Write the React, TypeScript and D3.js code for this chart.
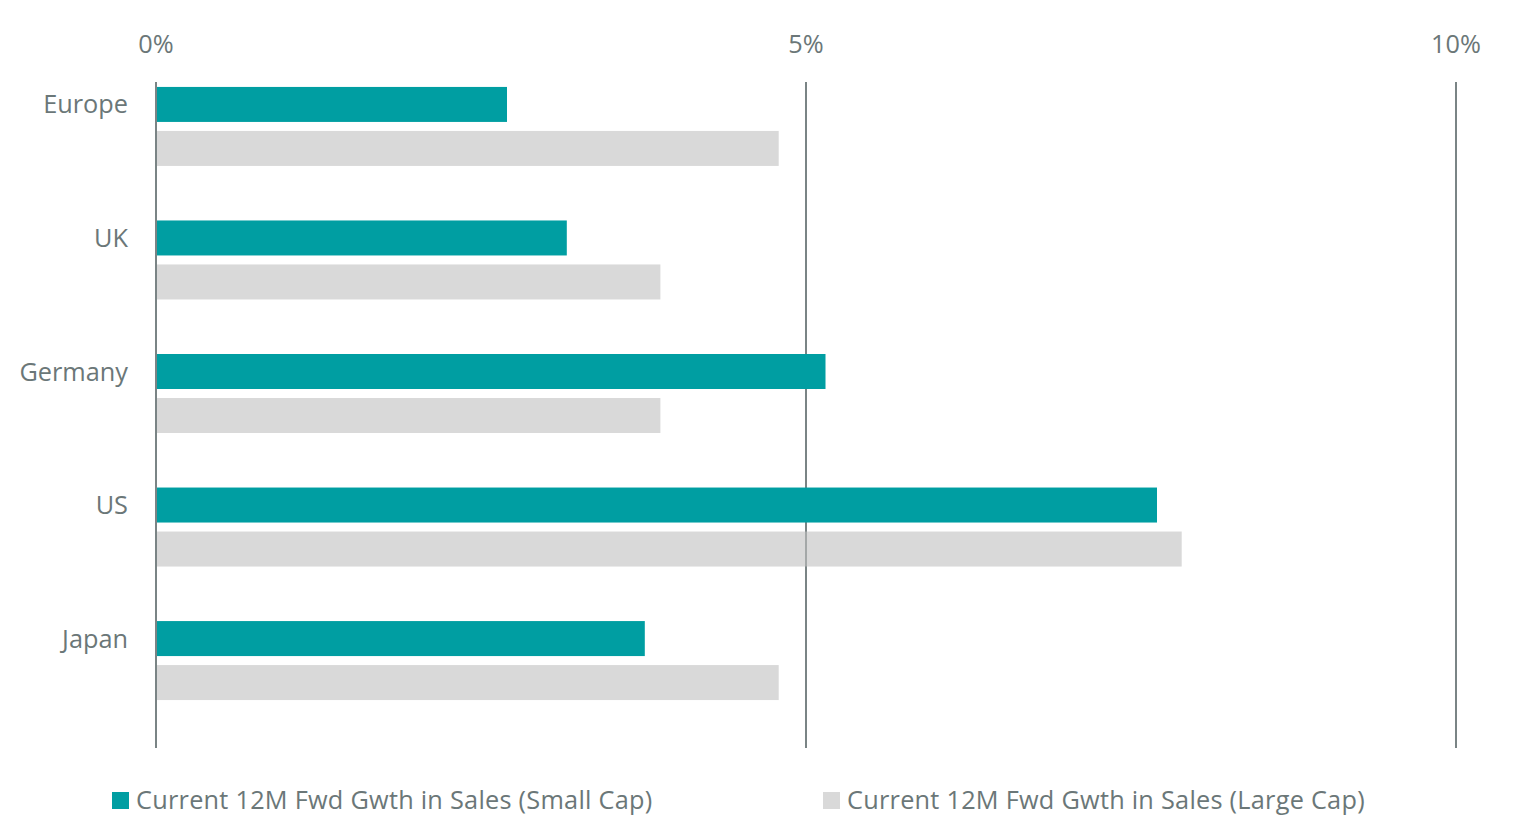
import React from "react";
import * as d3 from "d3";

const categories = ["Europe", "UK", "Germany", "US", "Japan"];
const smallCap = [2.7, 3.16, 5.15, 7.7, 3.76];
const largeCap = [4.79, 3.88, 3.88, 7.89, 4.79];
const tickValues = [0, 5, 10];
const seriesNames = [
  "Current 12M Fwd Gwth in Sales (Small Cap)",
  "Current 12M Fwd Gwth in Sales (Large Cap)",
];

const W = 1523;
const H = 815;
const TEAL = "#009EA2";
const TEXT = "#6b7778";
const LINE = "#7a8485";
const FONT = "'Open Sans', 'Noto Sans', sans-serif";
const FS = 25.3;

export default function App() {
  const x = d3.scaleLinear().domain([0, 10]).range([156, 1456]);
  const y = d3.scaleBand<string>().domain(categories).range([60, 727]).paddingInner(0.405).paddingOuter(0.2);
  const barH = 35;
  const gap = 9;
  const bw = y.bandwidth();
  const groupH = barH * 2 + gap;
  const off = (bw - groupH) / 2;

  return (
    <svg width={W} height={H} style={{ position: "absolute", left: 0, top: 0 }} fontFamily={FONT}>
      <rect width={W} height={H} fill="#fff" />
      {tickValues.map((t) => (
        <g key={t}>
          <line x1={x(t)} x2={x(t)} y1={82} y2={748} stroke={LINE} strokeWidth={2} />
          <text x={x(t)} y={53} textAnchor="middle" fontSize={FS} fill={TEXT}>
            {t}%
          </text>
        </g>
      ))}
      {categories.map((c, i) => {
        const y0 = (y(c) as number) + off;
        return (
          <g key={c}>
            <rect x={x(0)} y={y0} width={x(smallCap[i]) - x(0)} height={barH} fill={TEAL} />
            <rect x={x(0)} y={y0 + barH + gap} width={x(largeCap[i]) - x(0)} height={barH} fill="#BFBFBF" fillOpacity={0.6} />
            <text x={128} y={y0 + barH / 2 + 9} textAnchor="end" fontSize={FS} fill={TEXT}>
              {c}
            </text>
          </g>
        );
      })}
      <line x1={x(0)} x2={x(0)} y1={82} y2={748} stroke={LINE} strokeWidth={2} />
      <g>
        <rect x={112} y={792} width={17} height={17} fill={TEAL} />
        <text x={136} y={809} fontSize={FS} letterSpacing={0.25} fill={TEXT}>{seriesNames[0]}</text>
        <rect x={823} y={792} width={17} height={17} fill="#D9D9D9" />
        <text x={847} y={809} fontSize={FS} letterSpacing={0.25} fill={TEXT}>{seriesNames[1]}</text>
      </g>
    </svg>
  );
}
